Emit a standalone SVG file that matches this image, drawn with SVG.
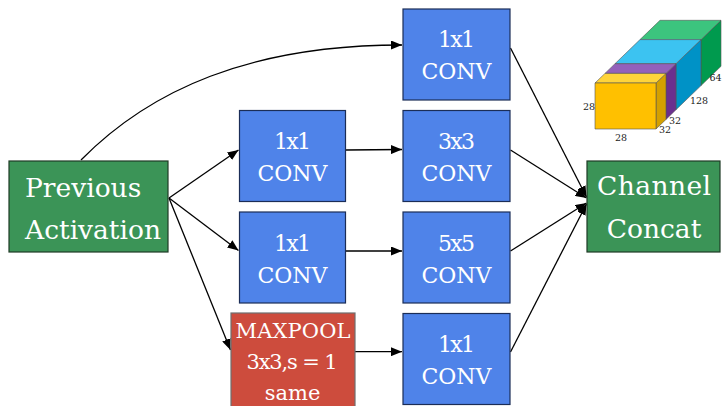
<svg xmlns="http://www.w3.org/2000/svg" width="722" height="406" viewBox="0 0 722 406">
<style>
.conv{fill:#4f83e9;stroke:#1b2d57;stroke-width:1.2}
.act{fill:#3b9457;stroke:#1f3b25;stroke-width:1.2}
.pool{fill:#cd4c3d;stroke:#6e6e6e;stroke-width:1.2}
.t{font-family:"DejaVu Serif","Liberation Serif",serif;fill:#ffffff;text-anchor:middle}
.big{font-size:26.5px}
.mid{font-size:22px}
.sm{font-size:21px}
.dim{font-family:"DejaVu Serif","Liberation Serif",serif;font-size:9.5px;fill:#222}
.edge{fill:none;stroke:#000;stroke-width:1.3;marker-end:url(#ah)}
.cube{stroke:#555;stroke-width:0.6;stroke-linejoin:round}
</style>
<defs>
<marker id="ah" markerUnits="userSpaceOnUse" markerWidth="11" markerHeight="9" refX="11" refY="4.5" orient="auto">
<path d="M0,0 L11,4.5 L0,9 z" fill="#000"/>
</marker>
</defs>
<g id="connectors">
<path class="edge" d="M81,160 C150,90 250,45 402,45"/>
<path class="edge" d="M169,198 L238.5,150"/>
<path class="edge" d="M169,198 L238.5,250.5"/>
<path class="edge" d="M169,198 L230.5,350"/>
<path class="edge" d="M346,150 L402,149.5"/>
<path class="edge" d="M346,251 L402,251"/>
<path class="edge" d="M355,351.7 L402,351.7"/>
<path class="edge" d="M510.5,48 L586.5,197"/>
<path class="edge" d="M510.5,150 L586.5,198"/>
<path class="edge" d="M510.5,251 L586.5,203"/>
<path class="edge" d="M510.5,352 L586.5,204"/>
</g>
<g id="prev">
<rect class="act" x="9" y="161" width="159" height="91"/>
<text class="t big" x="25" y="196.5" style="text-anchor:start">Previous</text>
<text class="t big" x="25" y="239" style="text-anchor:start">Activation</text>
</g>
<g id="concat">
<rect class="act" x="587" y="161" width="133" height="91"/>
<text class="t big" x="654" y="195" textLength="114">Channel</text>
<text class="t big" x="654" y="238">Concat</text>
</g>
<g id="conv1x1_a">
<rect class="conv" x="239.5" y="110.5" width="106" height="91"/>
<text class="t mid" x="292.5" y="149" textLength="37">1x1</text>
<text class="t mid" x="292.5" y="181">CONV</text>
</g>
<g id="conv1x1_b">
<rect class="conv" x="239.5" y="212" width="106" height="91"/>
<text class="t mid" x="292.5" y="250.5" textLength="37">1x1</text>
<text class="t mid" x="292.5" y="282.5">CONV</text>
</g>
<g id="maxpool">
<rect class="pool" x="231" y="313" width="124" height="100"/>
<text class="t sm" x="293" y="337.5" textLength="115">MAXPOOL</text>
<text class="t sm" x="292" y="368.5" textLength="91">3x3,s = 1</text>
<text class="t sm" x="292.5" y="400">same</text>
</g>
<g id="conv1x1_top">
<rect class="conv" x="403" y="9" width="107" height="91"/>
<text class="t mid" x="456.5" y="47" textLength="37">1x1</text>
<text class="t mid" x="456.5" y="79">CONV</text>
</g>
<g id="conv3x3">
<rect class="conv" x="403" y="110.5" width="107" height="91"/>
<text class="t mid" x="456.5" y="149" textLength="37">3x3</text>
<text class="t mid" x="456.5" y="181">CONV</text>
</g>
<g id="conv5x5">
<rect class="conv" x="403" y="212" width="107" height="91"/>
<text class="t mid" x="456.5" y="250.5" textLength="37">5x5</text>
<text class="t mid" x="456.5" y="282.5">CONV</text>
</g>
<g id="conv1x1_pool">
<rect class="conv" x="403" y="313.5" width="107" height="91"/>
<text class="t mid" x="456.5" y="352" textLength="37">1x1</text>
<text class="t mid" x="456.5" y="384">CONV</text>
</g>
<g id="cube">
<polygon class="cube" fill="#009a4e" points="701,39.6 721,20.3 721,66.3 701,85.6"/>
<polygon class="cube" fill="#3cc47e" points="640,39.6 701,39.6 721,20.3 660,20.3"/>
<polygon class="cube" fill="#0092c6" points="676,63.7 701,39.6 701,85.6 676,109.7"/>
<polygon class="cube" fill="#3cc3f1" points="615,63.7 676,63.7 701,39.6 640,39.6"/>
<polygon class="cube" fill="#6a2f8e" points="666,73.4 676,63.7 676,109.7 666,119.4"/>
<polygon class="cube" fill="#9361bb" points="605,73.4 666,73.4 676,63.7 615,63.7"/>
<polygon class="cube" fill="#d4a000" points="656,83 666,73.4 666,119.4 656,129"/>
<polygon class="cube" fill="#ffd43a" points="595,83 656,83 666,73.4 605,73.4"/>
<rect class="cube" fill="#ffc000" x="595" y="83" width="61" height="46"/>
<text class="dim" x="583" y="110">28</text>
<text class="dim" x="615" y="141">28</text>
<text class="dim" x="659" y="133">32</text>
<text class="dim" x="669" y="124">32</text>
<text class="dim" x="690" y="104">128</text>
<text class="dim" x="709.5" y="81">64</text>
</g>
</svg>
